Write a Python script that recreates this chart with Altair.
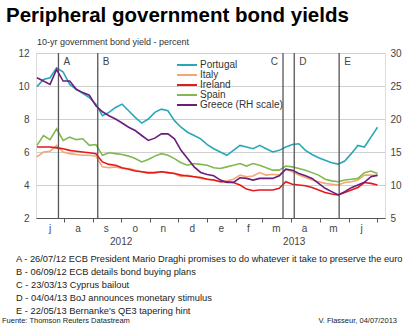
import altair as alt
import pandas as pd

# ---------------- data ----------------
dates = pd.date_range("2012-07-03", periods=53, freq="7D").strftime("%Y-%m-%d").tolist()

portugal = [9.96, 10.4, 10.5, 11.1, 10.85, 10.1, 9.8, 9.55, 9.3, 8.9,
            8.2, 8.4, 8.7, 8.9, 8.5, 8.1, 7.75, 8.0, 8.4, 8.6,
            8.5, 7.9, 7.5, 7.2, 7.0, 6.8, 6.45, 6.2, 6.0, 5.8,
            6.1, 6.4, 6.3, 6.2, 6.4, 6.2, 6.0, 6.1, 6.3, 6.45,
            6.5, 6.1, 5.85, 5.65, 5.5, 5.35, 5.27, 5.45, 5.9, 6.4,
            6.3, 6.9, 7.5]
italy = [5.7, 6.0, 6.05, 6.4, 6.0, 5.9, 5.85, 5.8, 5.8, 5.75,
         5.1, 5.05, 5.1, 5.0, 5.0, 4.9, 4.8, 4.7, 4.75, 4.8,
         4.75, 4.7, 4.5, 4.6, 4.5, 4.4, 4.35, 4.3, 4.2, 4.25,
         4.35, 4.6, 4.5, 4.55, 4.75, 4.6, 4.65, 4.6, 4.95, 4.8,
         4.6, 4.45, 4.3, 4.2, 4.1, 4.05, 4.0, 4.15, 4.2, 4.3,
         4.6, 4.6, 4.55]
ireland = [6.3, 6.3, 6.3, 6.25, 6.2, 6.1, 6.05, 6.0, 5.95, 5.9,
           5.4, 5.25, 5.2, 5.05, 4.95, 4.85, 4.8, 4.75, 4.75, 4.8,
           4.75, 4.7, 4.6, 4.55, 4.5, 4.45, 4.35, 4.3, 4.2, 4.2,
           4.15, 4.0, 3.75, 3.65, 3.7, 3.7, 3.7, 3.8, 4.2, 4.05,
           4.0, 3.95, 3.85, 3.7, 3.55, 3.45, 3.4, 3.55, 3.7, 3.85,
           4.15, 4.1, 4.0]
spain = [6.4, 7.0, 6.75, 7.4, 6.7, 6.9, 6.75, 6.8, 6.4, 6.45,
         5.8, 5.95, 5.9, 5.85, 5.75, 5.6, 5.4, 5.55, 5.75, 5.9,
         5.8, 5.6, 5.35, 5.2, 5.3, 5.25, 5.2, 5.05, 5.0, 5.1,
         5.2, 5.3, 5.15, 5.3, 5.2, 5.05, 4.9, 4.9, 5.15, 5.1,
         5.0, 4.9, 4.75, 4.6, 4.35, 4.25, 4.2, 4.3, 4.35, 4.4,
         4.75, 4.85, 4.7]
greece = [26.25, 25.75, 25.25, 27.5, 25.75, 25.75, 24.5, 24.0, 23.6, 22.0,
          21.1, 20.5, 20.0, 19.4, 18.75, 18.25, 17.5, 16.75, 17.1, 17.75,
          17.75, 17.0, 15.25, 14.0, 12.75, 11.9, 11.6, 11.4, 10.75, 10.4,
          10.4, 11.1, 11.0, 10.75, 11.0, 11.0, 11.0, 11.4, 12.4, 12.25,
          11.75, 11.4, 11.0, 10.25, 9.5, 9.0, 8.5, 9.0, 9.6, 10.0,
          10.4, 11.25, 11.5]

series_names = ["Portugal", "Italy", "Ireland", "Spain", "Greece (RH scale)"]
series_colors = ["#27a8b8", "#f6a672", "#e3191d", "#80b94f", "#6b1d7c"]

event_letters = ["A", "B", "C", "D", "E"]
event_dates = ["2012-07-26", "2012-09-06", "2013-03-23", "2013-04-04", "2013-05-22"]

notes = [
    "A - 26/07/12 ECB President Mario Draghi promises to do whatever it take to preserve the euro",
    "B - 06/09/12 ECB details bond buying plans",
    "C - 23/03/13 Cyprus bailout",
    "D - 04/04/13 BoJ announces monetary stimulus",
    "E - 22/05/13 Bernanke's QE3 tapering hint",
]

month_letters = ["j", "a", "s", "o", "n", "d", "e", "f", "m", "a", "m", "j"]
month_mid_dates = ["2012-07-17", "2012-08-16", "2012-09-15", "2012-10-16", "2012-11-15",
                   "2012-12-16", "2013-01-16", "2013-02-14", "2013-03-16", "2013-04-15",
                   "2013-05-16", "2013-06-15"]
year_labels = ["2012", "2013"]
year_dates = ["2012-10-01", "2013-04-04"]

title_text = "Peripheral government bond yields"
subtitle_text = "10-yr government bond yield - percent"
source_text = "Fuente: Thomson Reuters Datastream"
credit_text = "V. Flasseur, 04/07/2013"

# ---------------- tables ----------------
left_rows = []
for name, vals in zip(series_names[:4], [portugal, italy, ireland, spain]):
    for d, v in zip(dates, vals):
        left_rows.append({"date": d, "series": name, "value": v})
df_left = pd.DataFrame(left_rows)
df_gr = pd.DataFrame({"date": dates, "series": series_names[4], "value": greece})
df_leg = pd.DataFrame({"series": series_names})
df_ev = pd.DataFrame({"date": event_dates, "letter": event_letters})
df_months = pd.DataFrame({"date": month_mid_dates, "lab": month_letters})
df_years = pd.DataFrame({"date": year_dates, "lab": year_labels})
df_title = pd.DataFrame({"txt": [title_text]})
df_sub = pd.DataFrame({"txt": [subtitle_text]})
df_notes = pd.DataFrame({"txt": ["\n".join(notes)]})
df_src = pd.DataFrame({"txt": [source_text]})
df_cred = pd.DataFrame({"txt": [credit_text]})

FONT = "Liberation Sans"
W, H = 349, 165

xscale = alt.Scale(domain=[alt.DateTime(year=2012, month=7, date=2),
                           alt.DateTime(year=2013, month=7, date=10)])
xaxis = alt.Axis(title=None, labels=False, grid=False, ticks=True, tickSize=4,
                 tickColor="#555555", domainColor="#555555", domainWidth=1,
                 tickCount={"interval": "month", "step": 1})
X = alt.X("date:T", scale=xscale, axis=xaxis)

color = alt.Color("series:N",
                  scale=alt.Scale(domain=series_names, range=series_colors),
                  legend=None)

left_lines = alt.Chart(df_left).mark_line(strokeWidth=1.6).encode(
    x=X,
    y=alt.Y("value:Q", scale=alt.Scale(domain=[2, 12]),
            axis=alt.Axis(orient="left", title=None, values=[2, 4, 6, 8, 10, 12],
                          grid=True, gridColor="#d0d0d0", domain=False, ticks=False,
                          labelPadding=7, labelFont=FONT, labelFontSize=10,
                          labelColor="#444444")),
    color=color,
)

greece_line = alt.Chart(df_gr).mark_line(strokeWidth=1.6).encode(
    x=X,
    y=alt.Y("value:Q", scale=alt.Scale(domain=[5, 30]),
            axis=alt.Axis(orient="right", title=None, values=[5, 10, 15, 20, 25, 30],
                          grid=False, domain=False, ticks=False, labelPadding=5,
                          labelFont=FONT, labelFontSize=10, labelColor="#444444")),
    color=color,
)

# legend drawn from the series list, with its own point scale for row placement
leg_y = alt.Y("series:N", sort=series_names,
              scale=alt.Scale(type="point", domain=series_names, range=[12, 52], padding=0),
              axis=None)
leg_sym = alt.Chart(df_leg).mark_rule(strokeWidth=2).encode(
    y=leg_y, x=alt.value(141), x2=alt.value(161), color=color)
leg_lab = alt.Chart(df_leg).mark_text(
    align="left", baseline="middle", font=FONT, fontSize=10, color="#333333"
).encode(y=leg_y, x=alt.value(164), text="series:N")

rules = alt.Chart(df_ev).mark_rule(color="#555555", strokeWidth=1.3).encode(x=X)

ev_text = alt.Chart(df_ev).transform_filter("datum.letter != 'C'").mark_text(
    align="left", baseline="middle", dx=5, font=FONT, fontSize=10, color="#444444"
).encode(x=X, y=alt.value(9), text="letter:N")

ev_text_c = alt.Chart(df_ev).transform_filter("datum.letter == 'C'").mark_text(
    align="right", baseline="middle", dx=-5, font=FONT, fontSize=10, color="#444444"
).encode(x=X, y=alt.value(9), text="letter:N")

month_text = alt.Chart(df_months).mark_text(
    align="center", baseline="middle", font=FONT, fontSize=10, color="#444444"
).encode(x=X, y=alt.value(H + 11), text="lab:N")

year_text = alt.Chart(df_years).mark_text(
    align="center", baseline="middle", font=FONT, fontSize=10, color="#444444"
).encode(x=X, y=alt.value(H + 24), text="lab:N")

title_mark = alt.Chart(df_title).mark_text(
    align="left", baseline="alphabetic", font=FONT, fontSize=20.5, fontWeight="bold",
    color="#000000"
).encode(x=alt.value(-30), y=alt.value(-31), text="txt:N")

sub_text = alt.Chart(df_sub).mark_text(
    align="left", baseline="middle", font=FONT, fontSize=9, color="#333333"
).encode(x=alt.value(1), y=alt.value(-11), text="txt:N")

notes_text = alt.Chart(df_notes).mark_text(
    align="left", baseline="top", font=FONT, fontSize=9.3, color="#222222",
    lineBreak="\n", lineHeight=13.1
).encode(x=alt.value(-20), y=alt.value(202), text="txt:N")

src_text = alt.Chart(df_src).mark_text(
    align="left", baseline="middle", font=FONT, fontSize=7.5, color="#222222"
).encode(x=alt.value(-34), y=alt.value(268), text="txt:N")

cred_text = alt.Chart(df_cred).mark_text(
    align="right", baseline="middle", font=FONT, fontSize=7.5, color="#222222"
).encode(x=alt.value(361), y=alt.value(268), text="txt:N")

chart = alt.layer(
    left_lines, rules, ev_text, ev_text_c, month_text, year_text,
    title_mark, sub_text, notes_text, src_text, cred_text, leg_sym, leg_lab,
    greece_line
).resolve_scale(y="independent").properties(
    width=W, height=H,
    autosize=alt.AutoSizeParams(type="none"),
    padding={"left": 36, "top": 53, "right": 35, "bottom": 115},
).configure_view(stroke=None).configure(background="white")

chart.save("out.html", embed_options={"renderer": "svg", "actions": False})
